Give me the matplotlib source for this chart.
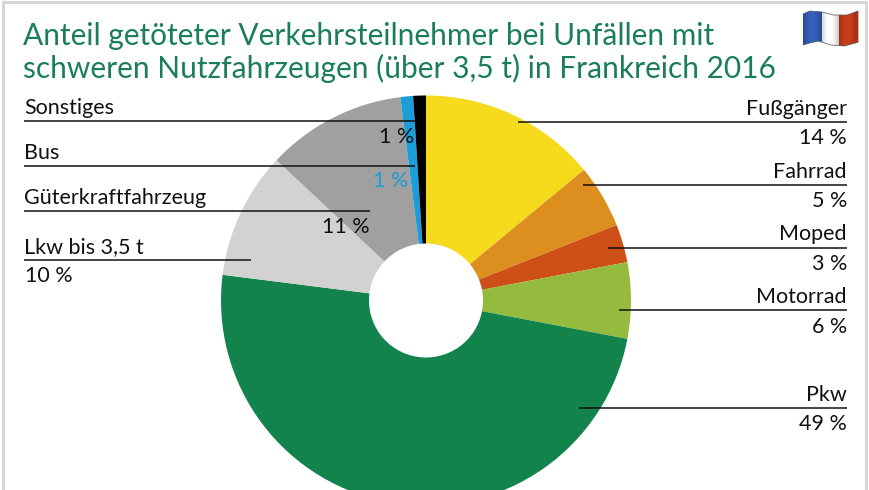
import numpy as np
import matplotlib
matplotlib.use("Agg")
import matplotlib.pyplot as plt
from matplotlib.patches import Rectangle, Polygon

title_lines = ["Anteil getöteter Verkehrsteilnehmer bei Unfällen mit",
               "schweren Nutzfahrzeugen (über 3,5 t) in Frankreich 2016"]
categories = ["Fußgänger", "Fahrrad", "Moped", "Motorrad", "Pkw",
              "Lkw bis 3,5 t", "Güterkraftfahrzeug", "Bus", "Sonstiges"]
values = [14, 5, 3, 6, 49, 10, 11, 1, 1]
colors = ["#F6DA1C", "#DC8F1E", "#CF4F18", "#95BB3E", "#12834B",
          "#D2D2D2", "#A0A0A0", "#1B9DD9", "#000000"]
value_labels = [f"{v}\u2009\u2009%" for v in values]

W, H = 870, 490
plt.rcParams["font.family"] = ["Lato", "DejaVu Sans"]
fig = plt.figure(figsize=(W/100, H/100), dpi=100, facecolor="white")
ax = fig.add_axes([0, 0, 1, 1])

def Y(y):
    return H - y

ax.pie(values, colors=colors, startangle=90, counterclock=False,
       center=(426, Y(300.5)), radius=205,
       wedgeprops=dict(width=205-57, linewidth=0), frame=True)
ax.set_xlim(0, W)
ax.set_ylim(0, H)
ax.set_aspect("equal")
ax.axis("off")

# frame
ax.add_patch(Rectangle((3.5, -5), W-7.5, H+5-2.5, fill=False, ec="#D6D6D6", lw=2.2))

# title
green = "#1A7F56"
ax.text(23, Y(36), title_lines[0], color=green, fontsize=21.5, va="center", ha="left")
ax.text(23, Y(68), title_lines[1], color=green, fontsize=21.5, va="center", ha="left")

fs = 15.5
ink = "#111111"
left = [(8, 121.5, 415, 108, 414, 137, "right", ink),
        (7, 166.5, 415, 153, 408, 181, "right", "#1B9DD9"),
        (6, 211.5, 370, 198, 370, 227, "right", ink),
        (5, 260.5, 251, 247, 25, 276, "left", ink)]
for i, ly, xe, ny, vx, vy, ha, c in left:
    ax.plot([24, xe], [Y(ly), Y(ly)], color="#111111", lw=1.1, solid_capstyle="butt")
    ax.text(24, Y(ny), categories[i], fontsize=fs, color=ink, va="center", ha="left")
    ax.text(vx, Y(vy), value_labels[i], fontsize=fs, color=c, va="center", ha=ha)

right = [(0, 122.5, 518, 109, 138),
         (1, 185, 583, 172, 201),
         (2, 248, 608, 234, 264),
         (3, 310.5, 619, 297, 327),
         (4, 408.5, 579, 395, 424)]
for i, ly, xs, ny, vy in right:
    ax.plot([xs, 847], [Y(ly), Y(ly)], color="#111111", lw=1.1, solid_capstyle="butt")
    ax.text(847, Y(ny), categories[i], fontsize=fs, color=ink, va="center", ha="right")
    ax.text(847, Y(vy), value_labels[i], fontsize=fs, color=ink, va="center", ha="right")

# flag decoration: column strips following the wave of the cloth
t = np.linspace(0, 1, 56)
xf = 803 + 55 * t
top = np.interp(t, [0, .12, .35, .55, .8, .95, 1], [14, 11, 12, 15, 15, 12, 11])
bot = np.interp(t, [0, .12, .28, .5, .75, .95, 1], [45, 43, 41, 45, 46, 43, 42])
base = [np.array([0.20, 0.36, 0.70]), np.array([0.97, 0.97, 0.98]), np.array([0.76, 0.23, 0.10])]
for k in range(len(t) - 1):
    band = 0 if t[k] < 0.33 else (1 if t[k] < 0.64 else 2)
    phase = (t[k] % 0.32) / 0.32
    shade = 0.82 + 0.22 * np.sin(phase * np.pi)
    col = np.clip(base[band] * shade, 0, 1)
    ax.add_patch(Polygon([(xf[k], Y(top[k])), (xf[k+1] + 0.4, Y(top[k+1])),
                          (xf[k+1] + 0.4, Y(bot[k+1])), (xf[k], Y(bot[k]))],
                         closed=True, fc=col, ec="none"))
ax.plot(xf, Y(top), color="#555555", lw=0.5)
ax.plot(xf, Y(bot), color="#555555", lw=0.5)

fig.savefig("out.png", dpi=100, facecolor="white")
